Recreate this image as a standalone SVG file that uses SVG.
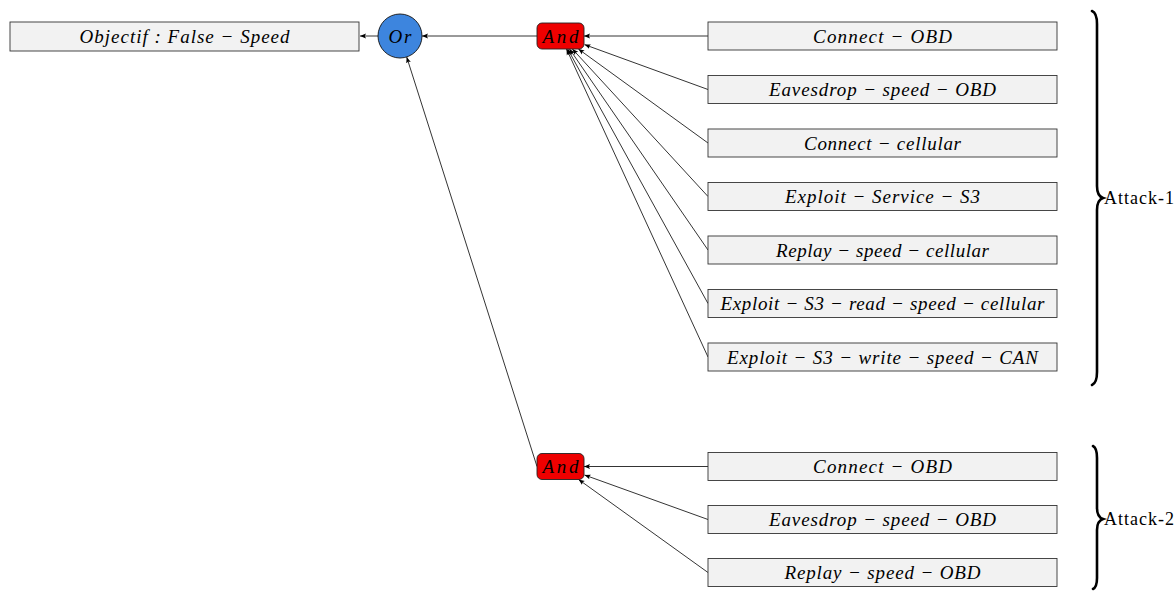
<svg xmlns="http://www.w3.org/2000/svg" width="1176" height="591" viewBox="0 0 1176 591">
<style>
.box{fill:#f2f2f2;stroke:#333;stroke-width:0.9}
.and{fill:#ee0000;stroke:#222;stroke-width:0.9}
.or{fill:#3d85de;stroke:#111;stroke-width:0.9}
.t{font-family:"Liberation Serif","DejaVu Serif",serif;font-style:italic;font-size:19px;fill:#000;text-anchor:middle;dominant-baseline:central}
.lbl{font-family:"Liberation Serif","DejaVu Serif",serif;font-size:18px;fill:#000;dominant-baseline:central}
.c{stroke:#000;stroke-width:0.8;fill:none;marker-end:url(#ah)}
.brace{stroke:#000;stroke-width:2.6;fill:none;stroke-linecap:round}
</style>
<defs>
<marker id="ah" viewBox="0 0 10 10" refX="10" refY="5" markerWidth="6" markerHeight="6" markerUnits="userSpaceOnUse" orient="auto">
<path d="M0,1 L10,5 L0,9 L2,5 Z" fill="#000"/>
</marker>
</defs>
<rect width="1176" height="591" fill="#fff"/>
<g id="connectors">
<line class="c" x1="378" y1="36" x2="360" y2="36"/>
<line class="c" x1="537" y1="36" x2="422" y2="36"/>
<line class="c" x1="537" y1="466.5" x2="406.7" y2="57"/>
<line class="c" x1="708" y1="36" x2="584" y2="36"/>
<line class="c" x1="708" y1="89.5" x2="584.5" y2="44.6"/>
<line class="c" x1="708" y1="143" x2="578.4" y2="49"/>
<line class="c" x1="708" y1="196.5" x2="572.4" y2="49"/>
<line class="c" x1="708" y1="250" x2="569.5" y2="49"/>
<line class="c" x1="708" y1="303.5" x2="567.7" y2="49"/>
<line class="c" x1="708" y1="357" x2="566.5" y2="49"/>
<line class="c" x1="708" y1="466.5" x2="584" y2="466.5"/>
<line class="c" x1="708" y1="519.5" x2="584.5" y2="475"/>
<line class="c" x1="708" y1="572.5" x2="578.6" y2="479.5"/>
</g>
<g id="objectif"><rect class="box" x="10" y="22" width="349" height="29"/><text class="t" x="184.5" y="36" textLength="210" lengthAdjust="spacing">Objectif : False − Speed</text></g>
<g id="or"><circle class="or" cx="400" cy="36" r="22"/><text class="t" x="400" y="36" textLength="23" lengthAdjust="spacing">Or</text></g>
<g id="and1"><rect class="and" x="537" y="23" width="47" height="26" rx="5"/><text class="t" x="560.5" y="36" textLength="36" lengthAdjust="spacing">And</text></g>
<g id="and2"><rect class="and" x="537" y="453.5" width="47" height="26" rx="5"/><text class="t" x="560.5" y="466.5" textLength="36" lengthAdjust="spacing">And</text></g>
<g id="a1"><rect class="box" x="708" y="22" width="349" height="28"/><text class="t" x="882.5" y="36" textLength="139" lengthAdjust="spacing">Connect − OBD</text></g>
<g id="a2"><rect class="box" x="708" y="75.5" width="349" height="28"/><text class="t" x="882.5" y="89.5" textLength="227" lengthAdjust="spacing">Eavesdrop − speed − OBD</text></g>
<g id="a3"><rect class="box" x="708" y="129" width="349" height="28"/><text class="t" x="882.5" y="143" textLength="157" lengthAdjust="spacing">Connect − cellular</text></g>
<g id="a4"><rect class="box" x="708" y="182.5" width="349" height="28"/><text class="t" x="882.5" y="196.5" textLength="195" lengthAdjust="spacing">Exploit − Service − S3</text></g>
<g id="a5"><rect class="box" x="708" y="236" width="349" height="28"/><text class="t" x="882.5" y="250" textLength="213" lengthAdjust="spacing">Replay − speed − cellular</text></g>
<g id="a6"><rect class="box" x="708" y="289.5" width="349" height="28"/><text class="t" x="882.5" y="303.5" textLength="324" lengthAdjust="spacing">Exploit − S3 − read − speed − cellular</text></g>
<g id="a7"><rect class="box" x="708" y="343" width="349" height="28"/><text class="t" x="882.5" y="357" textLength="311" lengthAdjust="spacing">Exploit − S3 − write − speed − CAN</text></g>
<g id="b1"><rect class="box" x="708" y="452.5" width="349" height="28"/><text class="t" x="882.5" y="466.5" textLength="139" lengthAdjust="spacing">Connect − OBD</text></g>
<g id="b2"><rect class="box" x="708" y="505.5" width="349" height="28"/><text class="t" x="882.5" y="519.5" textLength="227" lengthAdjust="spacing">Eavesdrop − speed − OBD</text></g>
<g id="b3"><rect class="box" x="708" y="558.5" width="349" height="28"/><text class="t" x="882.5" y="572.5" textLength="196" lengthAdjust="spacing">Replay − speed − OBD</text></g>
<g id="attack1">
<path class="brace" d="M1092,11 Q1097,13 1097,24 L1097,186 Q1097,196 1103,198 Q1097,200 1097,210 L1097,372 Q1097,383 1092,385"/>
<text class="lbl" x="1104" y="198" textLength="70" lengthAdjust="spacing">Attack-1</text>
</g>
<g id="attack2">
<path class="brace" d="M1093,446 Q1097,448 1097,458 L1097,508 Q1097,517 1103,519 Q1097,521 1097,530 L1097,578 Q1097,587 1093,589"/>
<text class="lbl" x="1104" y="519" textLength="70" lengthAdjust="spacing">Attack-2</text>
</g>
</svg>
